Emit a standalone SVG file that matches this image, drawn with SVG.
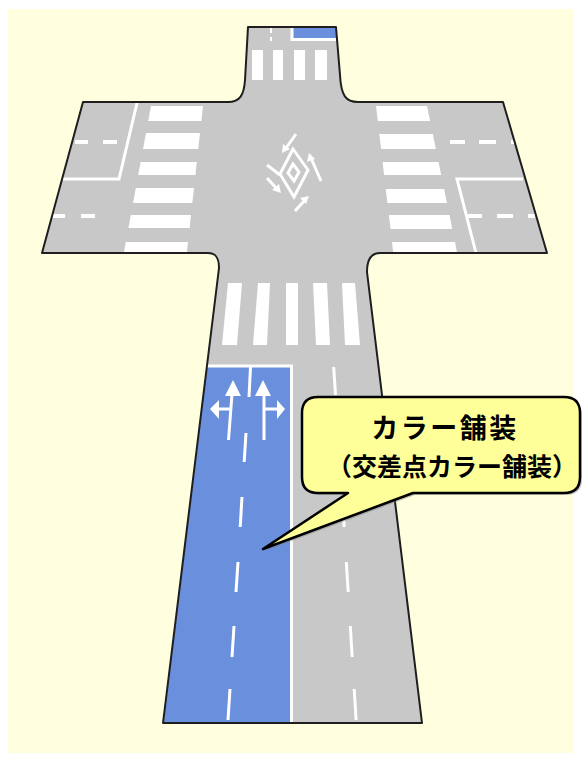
<svg xmlns="http://www.w3.org/2000/svg" width="582" height="761" viewBox="0 0 582 761">
  <style>
    .road { fill: #c8c8c8; }
    .edge { fill: none; stroke: #1e1e1e; stroke-width: 2; stroke-linejoin: round; }
    .mark { fill: #ffffff; }
    .line { fill: none; stroke: #ffffff; stroke-width: 3; stroke-linecap: butt; }
    .dash { fill: none; stroke: #ffffff; stroke-width: 4; }
    .lane { fill: none; stroke: #ffffff; stroke-width: 3; }
    .color { fill: #6a8fdc; }
    .label { font-family: "Noto Sans CJK JP", "Noto Sans", sans-serif; font-weight: 700; fill: #000000; text-anchor: middle; }
  </style>

  <!-- paper -->
  <rect x="0" y="0" width="582" height="761" fill="#ffffff"/>
  <rect x="8" y="9" width="566" height="744" fill="#ffffe0"/>

  <!-- road surface -->
  <g id="road">
    <path class="road" d="M248,27 L336,27 L340,75 C341,96 346,102 358,102 L503,102 L547,253 L380,253 C371,253 367,260 367,272 L422,723 L163,723 L219,268 C219,258 216,253 208,253 L42,253 L83,102 L228,102 C240,102 244,95 245,80 Z"/>
  </g>

  <!-- coloured pavement -->
  <g id="color-pavement">
    <rect class="color" x="293" y="28" width="43" height="10"/>
    <polyline class="line" points="292,28 292,39.5 336,39.5" stroke-width="2.5"/>
    <polygon class="color" points="207,367 291,367 291,723 163,723"/>
    <line class="lane" x1="207" y1="366" x2="293" y2="366"/>
    <line class="lane" x1="291.5" y1="365" x2="291.5" y2="723"/>
  </g>

  <!-- north arm markings -->
  <g id="north-arm">
    <rect class="mark" x="270" y="28" width="2" height="5"/>
    <rect class="mark" x="270" y="37" width="2" height="4"/>
    <rect class="mark" x="252" y="50" width="11" height="30"/>
    <rect class="mark" x="273" y="50" width="10" height="30"/>
    <rect class="mark" x="294" y="50" width="11" height="30"/>
    <rect class="mark" x="315" y="50" width="12" height="30"/>
  </g>

  <!-- west arm markings -->
  <g id="west-arm">
    <polygon class="mark" points="151,106 203,106 201.4,121 148.2,121"/>
    <polygon class="mark" points="146,133 200,133 198.3,149 143,149"/>
    <polygon class="mark" points="140.6,162 196.8,162 195.4,175 138.2,175"/>
    <polygon class="mark" points="135.8,188 194,188 192.3,203 133.1,203"/>
    <polygon class="mark" points="130.8,215 191,215 189.6,228 128.4,228"/>
    <polygon class="mark" points="125.8,242 188,242 186.8,253 123.8,253"/>
    <polyline class="line" points="137,103 119,179 63,179"/>
    <line class="dash" x1="75" y1="142" x2="88" y2="142"/>
    <line class="dash" x1="103" y1="142" x2="117" y2="142"/>
    <line class="dash" x1="53" y1="216" x2="65" y2="216"/>
    <line class="dash" x1="81" y1="216" x2="95" y2="216"/>
  </g>

  <!-- east arm markings -->
  <g id="east-arm">
    <polygon class="mark" points="376,106 427,106 430.1,121 377.8,121"/>
    <polygon class="mark" points="379.3,134 432.8,134 435.9,149 381.1,149"/>
    <polygon class="mark" points="382.6,162 438.5,162 441.2,175 384.1,175"/>
    <polygon class="mark" points="385.8,189 444.1,189 447,203 387.4,203"/>
    <polygon class="mark" points="388.9,215 449.5,215 452.3,229 390.5,229"/>
    <polygon class="mark" points="392,242 455,242 457.1,253 393.2,253"/>
    <polyline class="line" points="523,179 457,179 476,253"/>
    <line class="dash" x1="450" y1="142" x2="465" y2="142"/>
    <line class="dash" x1="479" y1="142" x2="496" y2="142"/>
    <line class="dash" x1="511" y1="142" x2="515" y2="142"/>
    <line class="dash" x1="468" y1="216" x2="482" y2="216"/>
    <line class="dash" x1="497" y1="216" x2="513" y2="216"/>
    <line class="dash" x1="528" y1="216" x2="535" y2="216"/>
  </g>

  <!-- intersection centre marking -->
  <g id="centre-mark" fill="none" stroke="#ffffff" stroke-width="3">
    <polygon points="293,149 308,170 294,197 280,174"/>
    <polygon points="293,164 299,172 294,181 288,173"/>
    <line x1="296" y1="134" x2="286" y2="148"/>
    <polygon points="282,153 283,144 290,149" fill="#ffffff" stroke="none"/>
    <line x1="321" y1="181" x2="311" y2="158"/>
    <polygon points="309,153 307,162 315,159" fill="#ffffff" stroke="none"/>
    <line x1="267" y1="165" x2="280" y2="175"/>
    <line x1="267" y1="178" x2="277" y2="189"/>
    <polygon points="281,193 272,190 279,184" fill="#ffffff" stroke="none"/>
    <line x1="295" y1="211" x2="305" y2="200"/>
    <polygon points="309,196 300,198 306,204" fill="#ffffff" stroke="none"/>
  </g>

  <!-- south arm markings -->
  <g id="south-arm">
    <polygon class="mark" points="228,283 242,283 237,345 222,345"/>
    <polygon class="mark" points="258,283 270,283 267,345 253,345"/>
    <polygon class="mark" points="286,283 298,283 298,345 286,345"/>
    <polygon class="mark" points="313,283 327,283 330,345 316,345"/>
    <polygon class="mark" points="342,283 355,283 360,345 345,345"/>

    <line class="lane" x1="250.5" y1="367" x2="249" y2="397"/>
    <line class="lane" x1="246" y1="433" x2="244.2" y2="462"/>
    <line class="lane" x1="242" y1="497" x2="240.2" y2="527"/>
    <line class="lane" x1="238" y1="562" x2="236" y2="592"/>
    <line class="lane" x1="234" y1="626" x2="232" y2="657"/>
    <line class="lane" x1="230" y1="689" x2="228" y2="720"/>

    <line class="lane" x1="333.7" y1="367" x2="335.5" y2="395"/>
    <line class="lane" x1="338.3" y1="433" x2="340" y2="462"/>
    <line class="lane" x1="342.3" y1="497" x2="344.2" y2="527"/>
    <line class="lane" x1="346.3" y1="562" x2="348.2" y2="592"/>
    <line class="lane" x1="350.3" y1="626" x2="352.2" y2="657"/>
    <line class="lane" x1="354.2" y1="689" x2="356.1" y2="720"/>
  </g>

  <!-- lane direction arrows -->
  <g id="lane-arrows">
    <line class="lane" x1="232" y1="394" x2="228.5" y2="440" stroke-width="3.5"/>
    <polygon class="mark" points="233,380 241,396 225,396"/>
    <line class="lane" x1="230" y1="409" x2="216" y2="409"/>
    <polygon class="mark" points="210,409 219,400 219,419"/>

    <line class="lane" x1="264" y1="394" x2="264" y2="440" stroke-width="3.5"/>
    <polygon class="mark" points="263,380 271,396 255,396"/>
    <line class="lane" x1="265" y1="409" x2="279" y2="409"/>
    <polygon class="mark" points="285,409 277,400 277,419"/>
  </g>

  <!-- road edge outline -->
  <g id="road-edge">
    <path class="edge" d="M248,27 L336,27 L340,75 C341,96 346,102 358,102 L503,102 L547,253 L380,253 C371,253 367,260 367,272 L422,723 L163,723 L219,268 C219,258 216,253 208,253 L42,253 L83,102 L228,102 C240,102 244,95 245,80 Z"/>
  </g>

  <!-- callout -->
  <g id="callout">
    <path d="M320,399 H566 Q582,399 582,415 V479 Q582,495 566,495 H415 L265,551 L350,495 H320 Q304,495 304,479 V415 Q304,399 320,399 Z" fill="#808080" opacity="0.45"/>
    <path d="M318,397 H564 Q580,397 580,413 V477 Q580,493 564,493 H413 L263,549 L348,493 H318 Q302,493 302,477 V413 Q302,397 318,397 Z" fill="#ffff99" stroke="#000000" stroke-width="2.5" stroke-linejoin="round"/>
    <text class="label" x="445" y="438" font-size="27" letter-spacing="2.5">カラー舗装</text>
    <text class="label" x="452" y="476" font-size="25">（交差点カラー舗装）</text>
  </g>
</svg>
